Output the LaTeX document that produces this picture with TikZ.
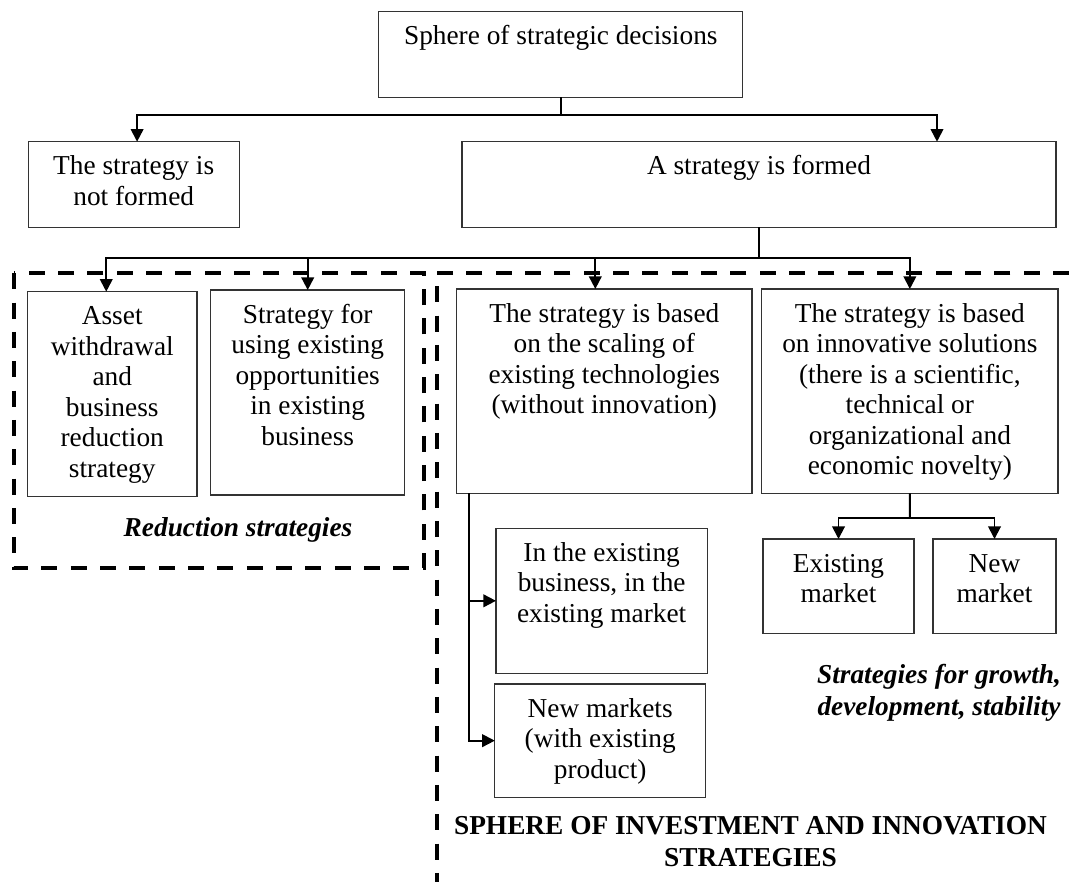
\documentclass[tikz,border=0pt]{standalone}
\usepackage{fontspec}
\setmainfont{Liberation Serif}
\usetikzlibrary{arrows.meta,calc}

% Breite, Hoehe (in px), Text oben ausgerichtet
\newcommand{\kastentext}[3]{\parbox[c][\dimexpr #2pt*3/4\relax][t]{\dimexpr #1pt*3/4\relax}{\centering\rule{0pt}{24.75pt}#3}}

\begin{document}
\begin{tikzpicture}[x=0.75pt,y=-0.75pt,
	font=\fontsize{20.5pt}{22.9pt}\selectfont,
	kasten/.style={draw=black!80, line width=0.9pt, inner sep=0pt, outer sep=0pt, anchor=north west},
	verb/.style={line width=1.4pt},
	pfeil/.style={line width=1.4pt, -{Triangle[length=9.5pt,width=9.5pt]}},
	strich/.style={line width=3pt, dash pattern=on 12pt off 10pt},
	titel/.style={align=center, inner sep=0pt, anchor=base}]

	\useasboundingbox (0,0) rectangle (1069,882);

	% Gestrichelte Bereiche
	\draw[strich] (13.8,273.3) rectangle (423.6,568.3);
	\draw[strich] (1069,273.3) -- (436.6,273.3) -- (436.6,882);

	% Kaesten
	\node[kasten] (top) at (378.8,11.7) {\kastentext{364}{85.6}{Sphere of strategic decisions}};
	\node[kasten] (notformed) at (28.2,141.7) {\kastentext{211}{85.6}{The strategy is\\not formed}};
	\node[kasten] (formed) at (462,141.7) {\kastentext{594}{85.6}{A strategy is formed}};

	\node[kasten] (asset) at (27.5,291.7) {\kastentext{169.5}{205}{Asset\\withdrawal\\and\\business\\reduction\\strategy}};
	\node[kasten] (using) at (210.7,290) {\kastentext{194}{205}{Strategy for\\using existing\\opportunities\\in existing\\business}};
	\node[kasten] (scaling) at (456.6,289) {\kastentext{295.4}{204.3}{The strategy is based\\on the scaling of\\existing technologies\\(without innovation)}};
	\node[kasten] (innov) at (761.7,289) {\kastentext{296.3}{204.3}{The strategy is based\\on innovative solutions\\(there is a scientific,\\technical or\\organizational and\\economic novelty)}};

	\node[kasten] (inexist) at (496,528.3) {\kastentext{211.3}{145}{In the existing\\business, in the\\existing market}};
	\node[kasten] (newmkts) at (494.8,684) {\kastentext{210.8}{113.3}{New markets\\(with existing\\product)}};
	\node[kasten] (exmkt) at (763,539) {\kastentext{151}{94.3}{Existing\\market}};
	\node[kasten] (newmkt) at (933,539) {\kastentext{123}{94.3}{New\\market}};

	% Beschriftung
	\node[titel, font=\fontsize{20.5pt}{23.5pt}\selectfont\bfseries\itshape] (redlab) at (238,536.7) {Reduction strategies};
	\node[titel, font=\fontsize{20.5pt}{24pt}\selectfont\bfseries\itshape] (growlab) at (939,715) {Strategies for growth,\\development, stability};
	\node[titel, font=\fontsize{20.5pt}{23.8pt}\selectfont\bfseries] (spherelab) at (750.5,866.7) {SPHERE OF INVESTMENT AND INNOVATION\\STRATEGIES};

	% Verbindungen
	\coordinate (k1) at (560.8,115);
	\draw[verb] (top.south) -- (k1);
	\draw[pfeil] (k1) -| ($(notformed.north)+(3.4,0)$);
	\draw[pfeil] (k1) -| ($(formed.north)+(178,0)$);

	\coordinate (k2) at (759,257.7);
	\draw[verb] (formed.south) -- (k2);
	\draw[pfeil] (k2) -| ($(asset.north)+(-6,0)$);
	\draw[pfeil] (k2) -| (using.north);
	\draw[pfeil] (k2) -| ($(scaling.north)+(-9,0)$);
	\draw[pfeil] (k2) -| (innov.north);

	\draw[pfeil] ($(scaling.south west)+(12.5,0)$) |- (inexist.west);
	\draw[pfeil] ($(scaling.south west)+(12.5,0)$) |- (newmkts.west);

	\coordinate (k3) at (909.9,518.3);
	\draw[verb] (innov.south) -- (k3);
	\draw[pfeil] (k3) -| (exmkt.north);
	\draw[pfeil] (k3) -| (newmkt.north);

\end{tikzpicture}
\end{document}
